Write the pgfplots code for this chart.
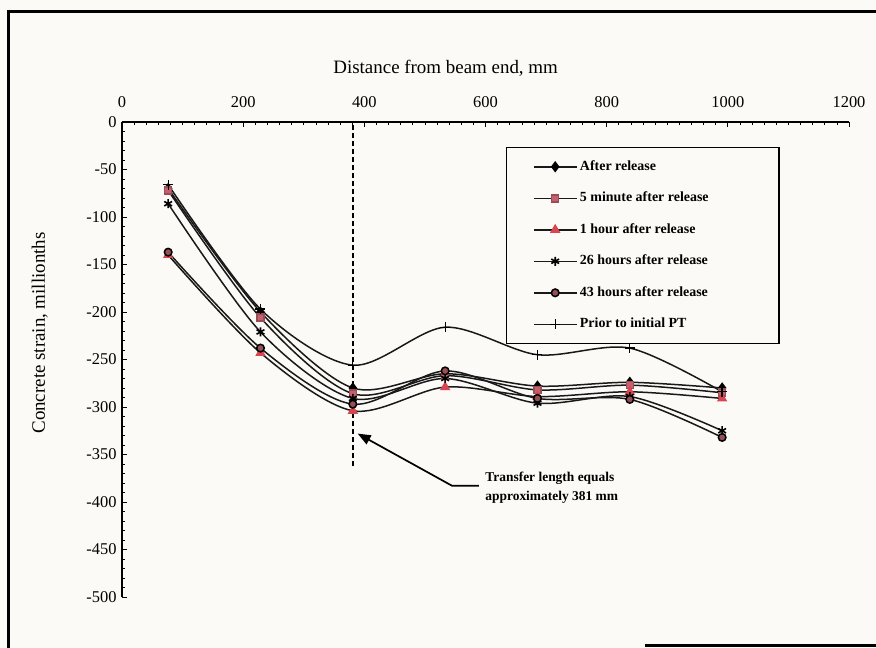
\documentclass[border=0pt]{standalone}
\usepackage{pgfplots}
\pgfplotsset{compat=1.18}
\usepackage{fontspec}
\setmainfont{Liberation Serif}
\usetikzlibrary{arrows.meta}
\definecolor{paper}{RGB}{251,250,246}
\definecolor{pinkm}{RGB}{200,95,110}
\definecolor{redm}{RGB}{215,70,80}
\definecolor{brownm}{RGB}{150,80,85}
\definecolor{linec}{RGB}{25,25,25}
\begin{document}
\begin{tikzpicture}
\fill[paper] (0bp,0bp) rectangle (876bp,648bp);
\path[use as bounding box] (0bp,0bp) rectangle (876bp,648bp);
\draw[line width=3bp] (8bp,0bp) -- (8bp,636bp) -- (876bp,636bp);
\draw[line width=3bp] (645bp,2bp) -- (876bp,2bp);
\begin{axis}[
 at={(122bp,51bp)}, anchor=south west,
 scale only axis, width=727bp, height=475bp,
 xmin=0, xmax=1200, ymin=-500, ymax=0,
 axis x line*=top, axis y line*=left,
 axis line style={line width=1.1bp, black},
 xtick={0,200,...,1200}, ytick={-500,-450,...,0},
 minor x tick num=9, minor y tick num=4,
 tick align=inside,
 major tick length=5bp, minor tick length=3bp,
 tick style={black, line width=0.7bp},
 /pgf/number format/assume math mode=true,
 /pgf/number format/1000 sep={},
 ticklabel style={font=\fontsize{16.5}{18}\selectfont},
 xticklabel style={anchor=center, yshift=20bp},
 yticklabel style={xshift=-2bp},
 clip=false,
 legend style={at={(axis description cs:0.528,0.947)}, anchor=north west,
   draw=black, line width=1.2bp, fill=paper,
   inner xsep=27bp, inner ysep=13bp, row sep=19.5bp, column sep=3bp,
   font=\bfseries\fontsize{14}{15}\selectfont,
   nodes={inner sep=0pt, text height=9.5bp, text depth=2.5bp}},
 legend cell align=left,
 legend image code/.code={\draw[mark repeat=2,mark phase=2] plot coordinates {(0bp,0bp) (21bp,0bp) (42bp,0bp)};},
]
\addplot[smooth, color=linec, line width=1.5bp, mark=diamond*, mark size=4.5bp, mark options={fill=black, draw=black, solid}]
 coordinates {(76.2,-70) (228.6,-200) (381,-280) (533.4,-265) (685.8,-278) (838.2,-274) (990.6,-280)};
\addlegendentry{\makebox[172bp][l]{After release}}
\addplot[smooth, color=linec, line width=1.5bp, mark=square*, mark size=3.5bp, mark options={fill=pinkm, draw=brownm, solid}]
 coordinates {(76.2,-72) (228.6,-206) (381,-286) (533.4,-267) (685.8,-282) (838.2,-277) (990.6,-285)};
\addlegendentry{\makebox[172bp][l]{5 minute after release}}
\addplot[smooth, color=linec, line width=1.5bp, mark=triangle*, mark size=4.5bp, mark options={fill=redm, draw=redm, solid}]
 coordinates {(76.2,-140) (228.6,-243) (381,-304) (533.4,-279) (685.8,-289) (838.2,-284) (990.6,-291)};
\addlegendentry{\makebox[172bp][l]{1 hour after release}}
\addplot[smooth, color=linec, line width=1.5bp, mark=asterisk, mark size=4.5bp, mark options={draw=black, line width=1.6bp, solid}]
 coordinates {(76.2,-86) (228.6,-221) (381,-291) (533.4,-270) (685.8,-296) (838.2,-289) (990.6,-325)};
\addlegendentry{\makebox[172bp][l]{26 hours after release}}
\addplot[smooth, color=linec, line width=1.5bp, mark=*, mark size=3.8bp, mark options={fill=brownm, draw=black, solid}]
 coordinates {(76.2,-137) (228.6,-238) (381,-297) (533.4,-262) (685.8,-291) (838.2,-292) (990.6,-332)};
\addlegendentry{\makebox[172bp][l]{43 hours after release}}
\addplot[smooth, color=linec, line width=1.5bp, mark=+, mark size=5bp, mark options={draw=black, line width=1.3bp, solid}]
 coordinates {(76.2,-66) (228.6,-197) (381,-256) (533.4,-216) (685.8,-245) (838.2,-238) (990.6,-284)};
\addlegendentry{\makebox[172bp][l]{Prior to initial PT}}
\draw[line width=1.4bp, dash pattern=on 5bp off 3bp] (axis cs:381,-3) -- (axis cs:381,-362);
\draw[line width=1.7bp, -{Triangle[length=13bp,width=10bp]}] (axis cs:589,-383) -- (axis cs:545,-383) -- (axis cs:389,-328);
\node[anchor=west, align=left, font=\bfseries\fontsize{13.5}{20}\selectfont] at (axis cs:594,-385) {Transfer length equals\\approximately 381 mm};
\node[anchor=west, font=\fontsize{19}{21}\selectfont] at (axis description cs:0.286,1.1137) {Distance from beam end, mm};
\node[rotate=90, font=\fontsize{19}{21}\selectfont] at (axis description cs:-0.113,0.556) {Concrete strain, millionths};
\end{axis}
\end{tikzpicture}
\end{document}
